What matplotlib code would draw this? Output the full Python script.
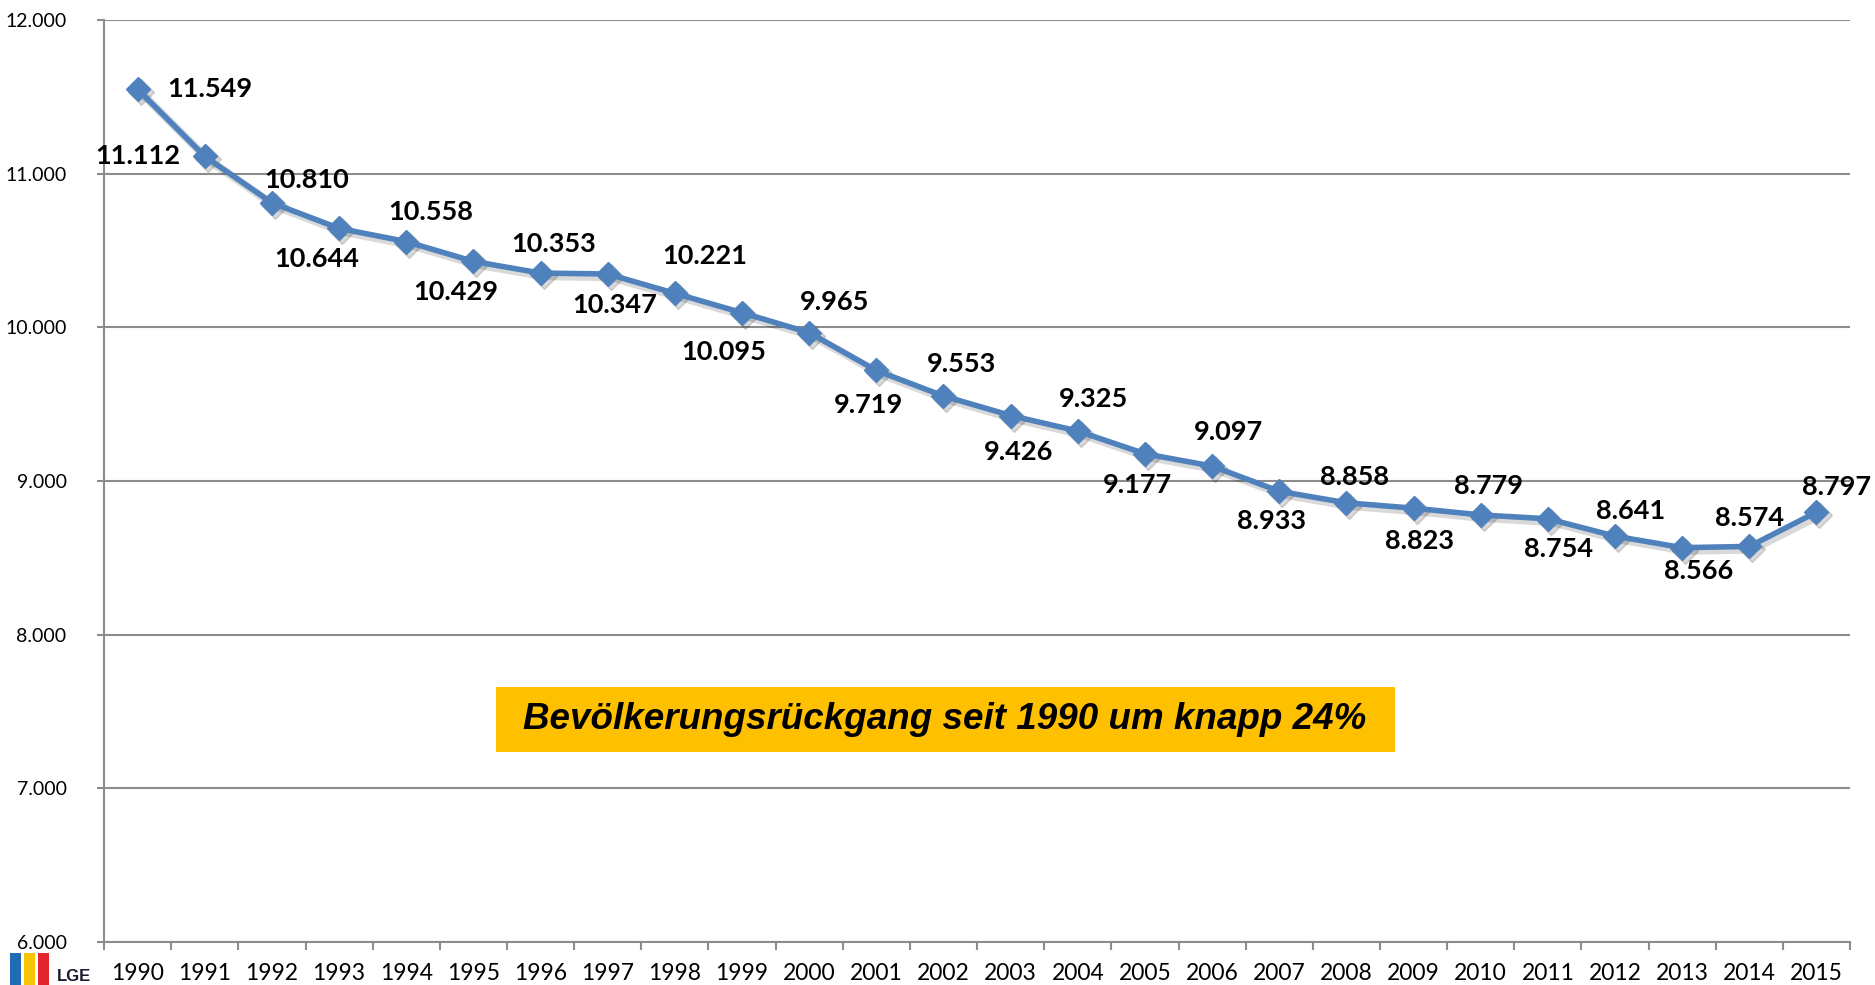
import matplotlib
matplotlib.use("Agg")
import matplotlib.pyplot as plt
import matplotlib.transforms as mtransforms
from matplotlib.patches import Rectangle

# data
years = list(range(1990, 2016))
population = [11549, 11112, 10810, 10644, 10558, 10429, 10353, 10347, 10221, 10095,
              9965, 9719, 9553, 9426, 9325, 9177, 9097, 8933, 8858, 8823,
              8779, 8754, 8641, 8566, 8574, 8797]
y_ticks = [6000, 7000, 8000, 9000, 10000, 11000, 12000]
note = "Bevölkerungsrückgang seit 1990 um knapp 24%"

# label offsets (pixels, dx, dy with dy up) - taken from the reference layout
label_offsets = [(72, 0), (-67, 0), (35, 23), (-22, -31), (24, 30), (-18, -31),
                 (13, 29), (7, -31), (30, 37), (-18, -39), (25, 31), (-8, -35),
                 (18, 32), (8, -36), (16, 32), (-8, -31), (16, 34), (-8, -30),
                 (8, 26), (6, -33), (8, 29), (11, -30), (16, 25), (16, -23),
                 (0, 28), (20, 25)]

def fmt(v):
    return f"{v:,}".replace(",", ".")

blue = "#4F81BD"
grid_col = "#8C8C8C"

fig = plt.figure(figsize=(18.75, 9.85), dpi=100)
ax = fig.add_axes([0.0555, 0.0437, 0.9312, 0.936])

x = list(range(len(years)))
# soft drop shadow under the line
shadow = mtransforms.offset_copy(ax.transData, fig=fig, x=3, y=-3, units="dots")
ax.plot(x, population, color="black", alpha=0.15, lw=6, marker="D", ms=13,
        transform=shadow, zorder=2)
ax.plot(x, population, color=blue, lw=4, marker="D", ms=12, mfc=blue, mec=blue,
        zorder=3, solid_joinstyle="round")

for xi, v, (dx, dy) in zip(x, population, label_offsets):
    ax.annotate(fmt(v), (xi, v), xytext=(dx, dy), textcoords="offset pixels",
                ha="center", va="center", fontsize=19.5, fontweight="bold",
                family="Lato", color="black", zorder=4)

ax.set_xlim(-0.5, len(years) - 0.5)
ax.set_ylim(6000, 12000)
ax.set_yticks(y_ticks)
ax.set_yticklabels([fmt(t) for t in y_ticks], family="Lato", fontsize=14)
ax.yaxis.grid(True, color=grid_col, lw=1.5)
ax.set_axisbelow(True)

# tick marks between categories, labels at centers
ax.set_xticks([i - 0.5 for i in range(len(years) + 1)])
ax.set_xticklabels([])
ax.set_xticks(x, minor=True)
ax.set_xticklabels([str(yr) for yr in years], minor=True, family="Lato", fontsize=16.5)
ax.tick_params(axis="x", which="major", length=6, width=1.5, color=grid_col, direction="out")
ax.tick_params(axis="x", which="minor", length=0, pad=15)
ax.tick_params(axis="y", length=5, width=1.5, color=grid_col, pad=22)

for s in ["top", "right"]:
    ax.spines[s].set_visible(False)
for s in ["left", "bottom"]:
    ax.spines[s].set_color(grid_col)
    ax.spines[s].set_linewidth(1.5)

# highlighted note
ax.add_patch(Rectangle((0.2245, 0.206), 0.515, 0.0706, transform=ax.transAxes,
                       facecolor="#FFC000", edgecolor="none", zorder=2))
ax.text(0.4817, 0.2413, note, transform=ax.transAxes, ha="center", va="center",
        fontsize=26.5, fontweight="bold", fontstyle="italic", family="Liberation Sans",
        color="black", zorder=3)

# small logo at the bottom left
W, H = 1875, 985
for x0, c in [(10, "#1F6BB5"), (24, "#F6C400"), (38, "#E3262E")]:
    fig.patches.append(Rectangle((x0 / W, 0), 11 / W, 32 / H, transform=fig.transFigure,
                                 facecolor=c, edgecolor="none"))
fig.text(57 / W, 1 / H, "LGE", ha="left", va="bottom", fontsize=12, fontweight="bold",
         family="Liberation Sans", color="#1A1A2E")

fig.savefig("out.png", dpi=100, facecolor="white")
